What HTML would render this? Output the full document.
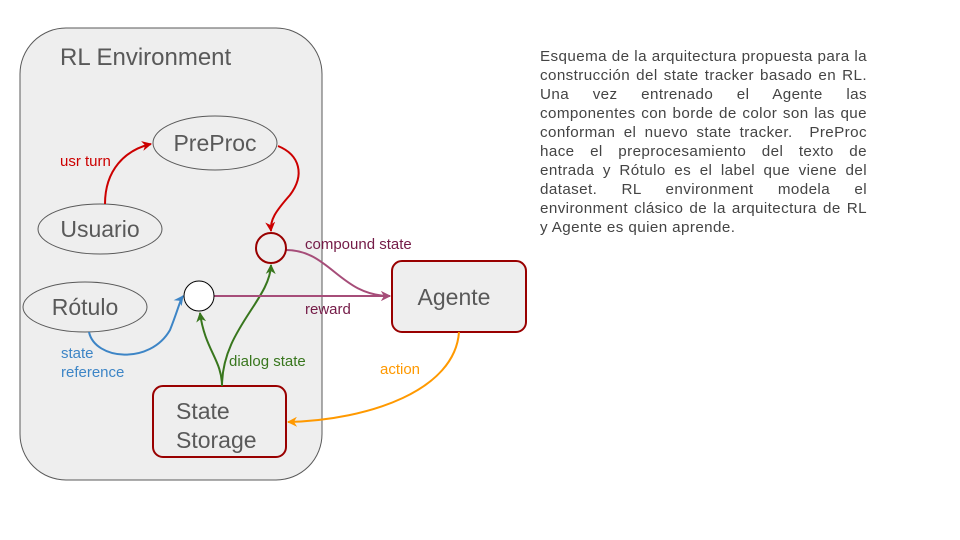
<!DOCTYPE html>
<html><head><meta charset="utf-8"><style>
body{margin:0;width:960px;height:540px;background:#fff;overflow:hidden;position:relative;font-family:"Liberation Sans",Arial,sans-serif}
.p{position:absolute;left:540px;width:327px;font-size:15.2px;letter-spacing:0.4px;color:#444;line-height:19px}
.p div{height:19px;white-space:nowrap}
.j{text-align:justify;text-align-last:justify}
</style></head><body>
<svg width="960" height="540" style="position:absolute;left:0;top:0" font-family="Liberation Sans, Arial, sans-serif">
<defs>
<marker id="r" viewBox="0 0 10 10" refX="9" refY="5" markerWidth="10" markerHeight="10" orient="auto" markerUnits="userSpaceOnUse"><path d="M0,0 L10,5 L0,10 L3,5z" fill="#cc0000"/></marker>
<marker id="b" viewBox="0 0 10 10" refX="9" refY="5" markerWidth="10" markerHeight="10" orient="auto" markerUnits="userSpaceOnUse"><path d="M0,0 L10,5 L0,10 L3,5z" fill="#3d85c6"/></marker>
<marker id="g" viewBox="0 0 10 10" refX="9" refY="5" markerWidth="10" markerHeight="10" orient="auto" markerUnits="userSpaceOnUse"><path d="M0,0 L10,5 L0,10 L3,5z" fill="#38761d"/></marker>
<marker id="m" viewBox="0 0 10 10" refX="9" refY="5" markerWidth="10" markerHeight="10" orient="auto" markerUnits="userSpaceOnUse"><path d="M0,0 L10,5 L0,10 L3,5z" fill="#a64d79"/></marker>
<marker id="o" viewBox="0 0 10 10" refX="9" refY="5" markerWidth="10" markerHeight="10" orient="auto" markerUnits="userSpaceOnUse"><path d="M0,0 L10,5 L0,10 L3,5z" fill="#ff9900"/></marker>
</defs>
<rect x="20" y="28" width="302" height="452" rx="46" fill="#eeeeee" stroke="#595959" stroke-width="1"/>
<text x="60" y="65" font-size="24" fill="#595959">RL Environment</text>
<ellipse cx="215" cy="143" rx="62" ry="27" fill="#eeeeee" stroke="#595959"/>
<text x="215" y="151" font-size="23" fill="#595959" text-anchor="middle">PreProc</text>
<ellipse cx="100" cy="229" rx="62" ry="25" fill="#eeeeee" stroke="#595959"/>
<text x="100" y="237" font-size="23" fill="#595959" text-anchor="middle">Usuario</text>
<ellipse cx="85" cy="307" rx="62" ry="25" fill="#eeeeee" stroke="#595959"/>
<text x="85" y="315" font-size="23" fill="#595959" text-anchor="middle">Rótulo</text>
<rect x="153" y="386" width="133" height="71" rx="10" fill="#eeeeee" stroke="#990000" stroke-width="2"/>
<text x="176" y="419" font-size="23" fill="#595959">State</text>
<text x="176" y="448" font-size="23" fill="#595959">Storage</text>
<rect x="392" y="261" width="134" height="71" rx="10" fill="#eeeeee" stroke="#990000" stroke-width="2"/>
<text x="454" y="305" font-size="23" fill="#595959" text-anchor="middle">Agente</text>
<path d="M105,204 C105,170 125,150 151,144" fill="none" stroke="#cc0000" stroke-width="2" marker-end="url(#r)"/>
<path d="M278,146 C300,155 305,175 290,195 C275,212 270,220 271,231" fill="none" stroke="#cc0000" stroke-width="2" marker-end="url(#r)"/>
<path d="M89,332 C95,360 150,365 170,330 C178,310 180,300 183,296" fill="none" stroke="#3d85c6" stroke-width="2" marker-end="url(#b)"/>
<path d="M222,386 C222,360 205,350 200,313" fill="none" stroke="#38761d" stroke-width="2" marker-end="url(#g)"/>
<path d="M222,386 C222,330 270,300 271,265" fill="none" stroke="#38761d" stroke-width="2" marker-end="url(#g)"/>
<path d="M214,296 L390,296" fill="none" stroke="#a64d79" stroke-width="2" marker-end="url(#m)"/>
<path d="M286,250 C330,250 340,296 390,296" fill="none" stroke="#a64d79" stroke-width="2" marker-end="url(#m)"/>
<path d="M459,332 C455,390 370,420 288,422" fill="none" stroke="#ff9900" stroke-width="2" marker-end="url(#o)"/>
<circle cx="271" cy="248" r="15" fill="#eeeeee" stroke="#990000" stroke-width="2"/>
<circle cx="199" cy="296" r="15" fill="#fff" stroke="#000" stroke-width="1"/>
<text x="60" y="166" font-size="15" fill="#cc0000">usr turn</text>
<text x="305" y="249" font-size="15" fill="#741b47">compound state</text>
<text x="305" y="314" font-size="15" fill="#741b47">reward</text>
<text x="61" y="358" font-size="15" fill="#3d85c6">state</text>
<text x="61" y="377" font-size="15" fill="#3d85c6">reference</text>
<text x="229" y="366" font-size="15" fill="#38761d">dialog state</text>
<text x="380" y="374" font-size="15" fill="#ff9900">action</text>
</svg>
<div class="p" style="top:47px">
<div class="j">Esquema de la arquitectura propuesta para la</div>
<div class="j">construcción del state tracker basado en RL.</div>
<div class="j">Una vez entrenado el Agente las</div>
<div class="j">componentes con borde de color son las que</div>
<div class="j">conforman el nuevo state tracker.&nbsp; PreProc</div>
<div class="j">hace el preprocesamiento del texto de</div>
<div class="j">entrada y Rótulo es el label que viene del</div>
<div class="j">dataset. RL environment modela el</div>
<div class="j">environment clásico de la arquitectura de RL</div>
<div>y Agente es quien aprende.</div>
</div>
</body></html>
